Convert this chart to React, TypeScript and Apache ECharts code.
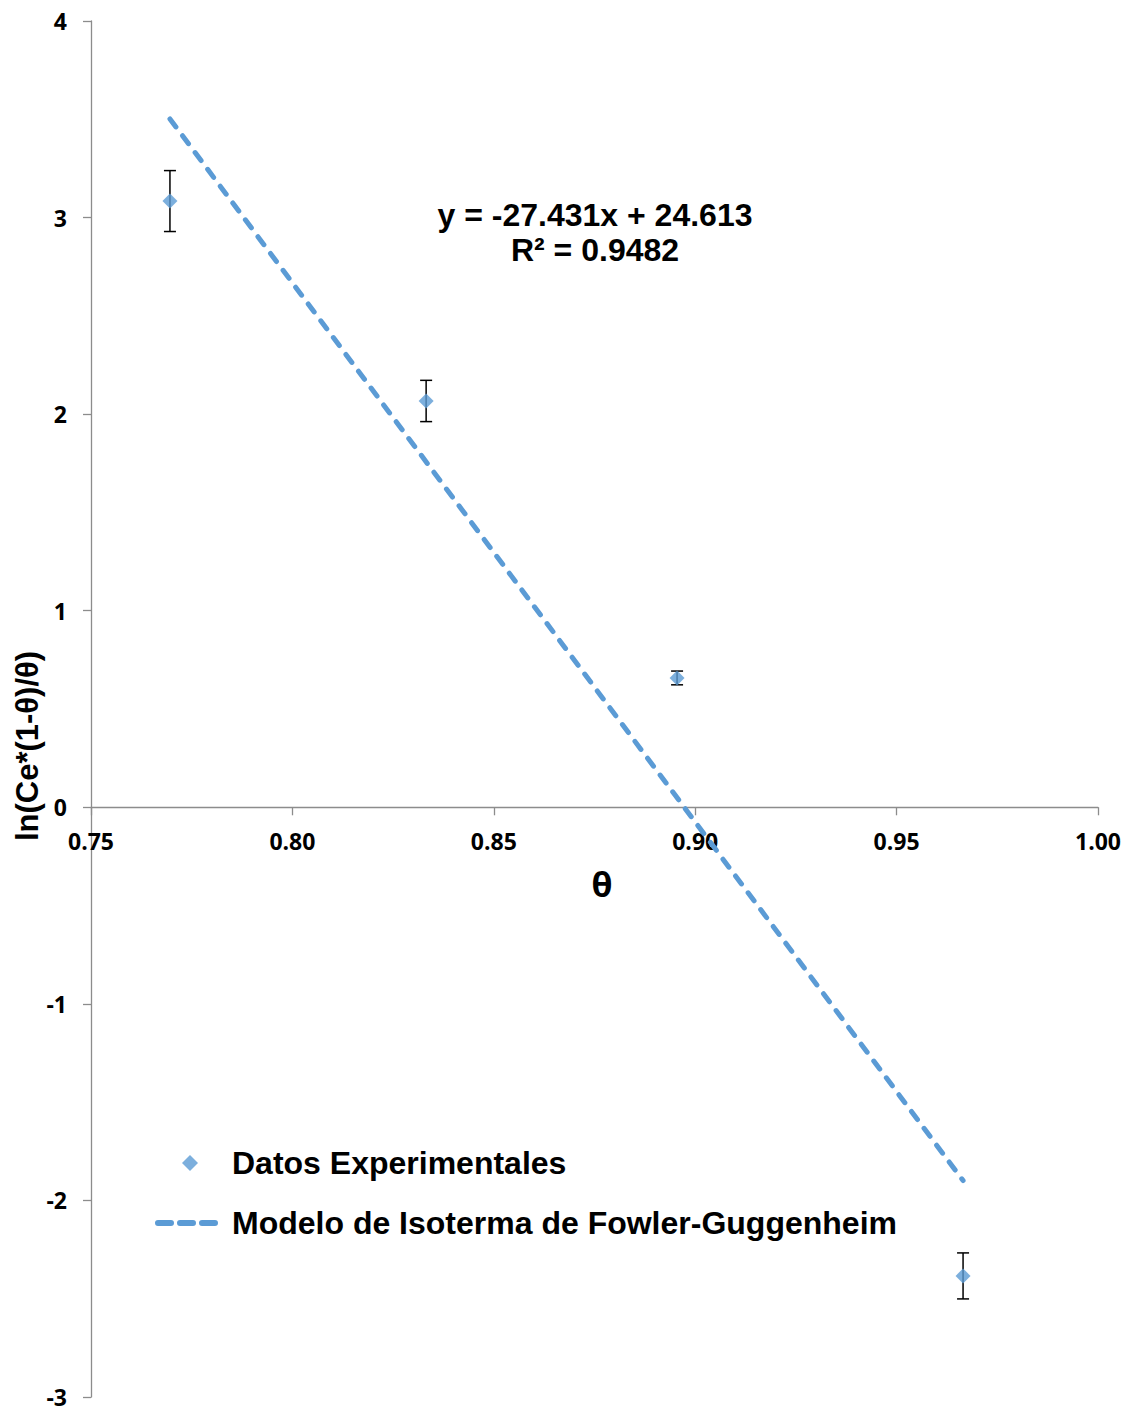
import React, { useEffect, useRef } from "react";
import * as echarts from "echarts";

const thetaValues = [0.7696, 0.8332, 0.8955, 0.9665];
const lnValues = [3.084, 2.067, 0.658, -2.384];
const errorValues = [0.155, 0.105, 0.035, 0.117];
const trendX = [0.7696, 0.9665];
const trendY = [3.502, -1.899];
const xTicks = [0.75, 1.0, 0.05];
const yTicks = [-3, 4, 1];
const equationText = "y = -27.431x + 24.613";
const r2Text = "R² = 0.9482";
const seriesNames = ["Datos Experimentales", "Modelo de Isoterma de Fowler-Guggenheim"];

const BLUE = "#5B9BD5";
const AXIS = "#8C8C8C";
const TXT = { fontFamily: "Liberation Sans", fontWeight: "bold", fontSize: 32, color: "#000" };

export default function App() {
  const ref = useRef<HTMLDivElement>(null);
  useEffect(() => {
    document.body.style.margin = "0";
    if (!ref.current) return;
    const chart = echarts.init(ref.current, null, { renderer: "svg" });
    const points = thetaValues.map((x, i) => [x, lnValues[i]]);
    const errData = thetaValues.map((x, i) => [x, lnValues[i] - errorValues[i], lnValues[i] + errorValues[i]]);
    const trendData = trendX.map((x, i) => [x, trendY[i]]);
    const plotTop = 21;
    const plotBottom = 1397;
    const zeroY = plotTop + ((plotBottom - plotTop) * yTicks[1]) / (yTicks[1] - yTicks[0]);
    chart.setOption({
      animation: false,
      backgroundColor: "#ffffff",
      grid: [
        { left: 91, right: 36, top: plotTop, bottom: 1412 - plotBottom, containLabel: false, outerBoundsMode: "none" },
        { left: 91, right: 36, top: plotTop, height: zeroY - plotTop, containLabel: false, outerBoundsMode: "none" },
      ],
      xAxis: [
        {
          type: "value",
          gridIndex: 0,
          min: xTicks[0],
          max: xTicks[1],
          interval: xTicks[2],
          show: false,
        },
        {
          type: "value",
          gridIndex: 1,
          min: xTicks[0],
          max: xTicks[1],
          interval: xTicks[2],
          position: "bottom",
          axisLine: { show: true, onZero: false, lineStyle: { color: AXIS, width: 1.3 } },
          axisTick: { show: true, inside: false, length: 8, lineStyle: { color: AXIS, width: 1.3 } },
          axisLabel: {
            formatter: (v: number) => v.toFixed(2),
            fontFamily: "Open Sans",
            fontWeight: "bold",
            fontSize: 23,
            color: "#000",
            margin: 22,
          },
          splitLine: { show: false },
        },
      ],
      yAxis: [
        {
          type: "value",
          gridIndex: 0,
          min: yTicks[0],
          max: yTicks[1],
          interval: yTicks[2],
          axisLine: { show: true, onZero: false, lineStyle: { color: AXIS, width: 1.3 } },
          axisTick: { show: true, inside: false, length: 8, lineStyle: { color: AXIS, width: 1.3 } },
          axisLabel: {
            fontFamily: "Open Sans",
            fontWeight: "bold",
            fontSize: 23,
            color: "#000",
            margin: 24,
          },
          splitLine: { show: false },
        },
        {
          type: "value",
          gridIndex: 1,
          min: 0,
          max: yTicks[1],
          show: false,
        },
      ],
      legend: [
        {
          orient: "vertical",
          left: 182,
          top: 1147,
          padding: 0,
          itemWidth: 16,
          itemHeight: 16,
          data: [{ name: seriesNames[0], icon: "diamond" }],
          textStyle: { ...TXT, padding: [0, 0, 0, 29] },
          selectedMode: false,
        },
        {
          orient: "vertical",
          left: 155,
          top: 1207,
          padding: 0,
          itemWidth: 63,
          itemHeight: 16,
          data: [
            {
              name: seriesNames[1],
              itemStyle: { opacity: 0 },
              lineStyle: { color: BLUE, width: 6, type: [13, 9], cap: "round" },
            },
          ],
          textStyle: { ...TXT, padding: [0, 0, 0, 6] },
          selectedMode: false,
        },
      ],
      series: [
        {
          type: "custom",
          name: "err",
          xAxisIndex: 0,
          yAxisIndex: 0,
          renderItem: (params: any, api: any) => {
            const x = api.value(0);
            const lo = api.coord([x, api.value(1)]);
            const hi = api.coord([x, api.value(2)]);
            const cap = 6;
            const style = { stroke: "#000", lineWidth: 1.5 };
            return {
              type: "group",
              children: [
                { type: "line", shape: { x1: lo[0], y1: lo[1], x2: hi[0], y2: hi[1] }, style },
                { type: "line", shape: { x1: lo[0] - cap, y1: lo[1], x2: lo[0] + cap, y2: lo[1] }, style },
                { type: "line", shape: { x1: hi[0] - cap, y1: hi[1], x2: hi[0] + cap, y2: hi[1] }, style },
              ],
            };
          },
          data: errData,
          z: 2,
        },
        {
          type: "line",
          name: seriesNames[1],
          xAxisIndex: 0,
          yAxisIndex: 0,
          data: trendData,
          showSymbol: false,
          symbol: "none",
          lineStyle: { color: BLUE, width: 5, type: [10, 11], cap: "round" },
          itemStyle: { color: BLUE },
          z: 3,
        },
        {
          type: "scatter",
          name: seriesNames[0],
          xAxisIndex: 0,
          yAxisIndex: 0,
          data: points,
          symbol: "diamond",
          symbolSize: 15,
          itemStyle: { color: BLUE },
          z: 4,
        },
      ],
      graphic: [
        {
          type: "text",
          x: 595,
          y: 215,
          style: {
            text: equationText,
            fontFamily: "Liberation Sans",
            fontWeight: "bold",
            fontSize: 32,
            fill: "#000",
            align: "center",
            verticalAlign: "middle",
          },
        },
        {
          type: "text",
          x: 595,
          y: 250,
          style: {
            text: r2Text,
            fontFamily: "Liberation Sans",
            fontWeight: "bold",
            fontSize: 32,
            fill: "#000",
            align: "center",
            verticalAlign: "middle",
          },
        },
        {
          type: "text",
          x: 602,
          y: 884,
          style: {
            text: "θ",
            fontFamily: "Open Sans",
            fontWeight: "bold",
            fontSize: 34,
            fill: "#000",
            align: "center",
            verticalAlign: "middle",
          },
        },
        {
          type: "text",
          x: 27,
          y: 746,
          rotation: Math.PI / 2,
          style: {
            text: "ln(Ce*(1-θ)/θ)",
            fontFamily: "Liberation Sans",
            fontWeight: "bold",
            fontSize: 31,
            fill: "#000",
            align: "center",
            verticalAlign: "middle",
          },
        },
      ],
    });
    return () => chart.dispose();
  }, []);
  return <div ref={ref} style={{ width: 1134, height: 1412 }} />;
}
